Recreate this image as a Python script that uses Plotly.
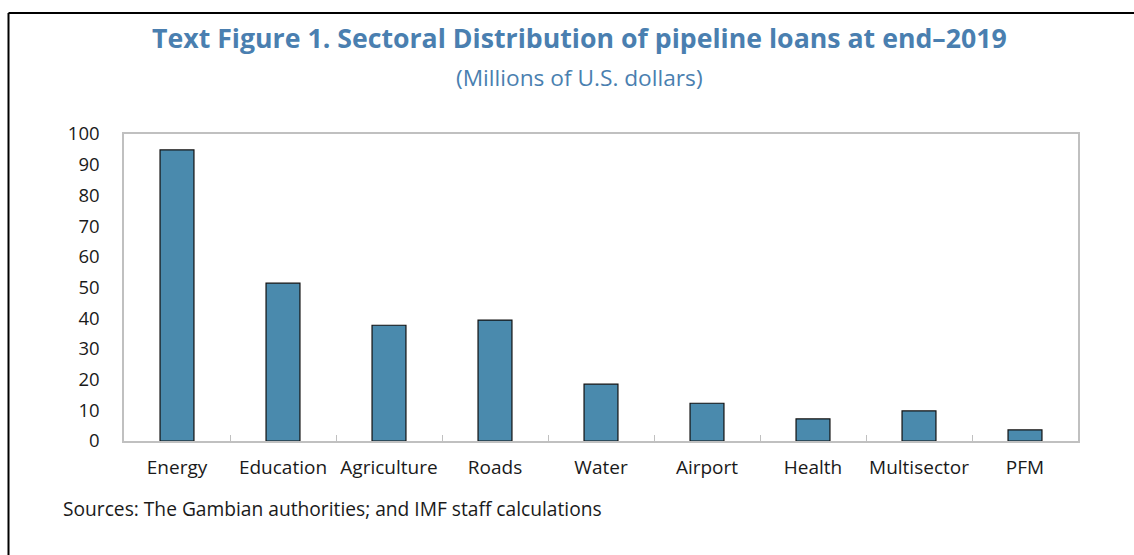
import plotly.graph_objects as go

# Pipeline loans by sector, end-2019 (millions of U.S. dollars)
sectors = ["Energy", "Education", "Agriculture", "Roads", "Water",
           "Airport", "Health", "Multisector", "PFM"]
loans = [94.8, 51.4, 37.7, 39.4, 18.5, 12.3, 7.2, 9.8, 3.6]
y_ticks = [0, 10, 20, 30, 40, 50, 60, 70, 80, 90, 100]

W, H = 1134, 555
L, R, T, B = 124, 1078, 134, 441  # plot area in pixels


def px_x(x):
    return (x - L) / (R - L)


def px_y(y):
    return (B - y) / (B - T)


title_color = "#4a7fb0"
font_family = "Open Sans, Noto Sans, DejaVu Sans, sans-serif"

fig = go.Figure(
    go.Bar(
        x=sectors,
        y=loans,
        marker=dict(color="#4a8aad", line=dict(color="#111111", width=1.2)),
        width=0.32,
    )
)

fig.update_layout(
    width=W,
    height=H,
    margin=dict(l=L, r=W - R, t=T, b=H - B),
    paper_bgcolor="white",
    plot_bgcolor="white",
    showlegend=False,
    font=dict(family=font_family, color="#1a1a1a"),
)

fig.update_xaxes(
    type="category",
    showline=True,
    linecolor="#c0c0c0",
    linewidth=1.5,
    mirror=True,
    ticks="inside",
    tickson="boundaries",
    ticklen=6,
    tickcolor="#c0c0c0",
    tickwidth=1,
    showgrid=False,
    tickangle=0,
    tickfont=dict(size=19, color="#1a1a1a"),
    ticklabelstandoff=8,
)

fig.update_yaxes(
    range=[0, 100],
    tickvals=y_ticks,
    showline=True,
    linecolor="#c0c0c0",
    linewidth=1.5,
    mirror=True,
    ticks="",
    showgrid=False,
    zeroline=False,
    tickfont=dict(size=18.5, color="#1a1a1a"),
    ticklabelstandoff=19,
)

fig.add_annotation(
    text="<b>Text Figure 1. Sectoral Distribution of pipeline loans at end\u20132019</b>",
    xref="paper", yref="paper", x=px_x(579), y=px_y(37),
    xanchor="center", yanchor="middle", showarrow=False,
    font=dict(size=26.7, color=title_color, family=font_family),
)
fig.add_annotation(
    text="(Millions of U.S. dollars)",
    xref="paper", yref="paper", x=px_x(579), y=px_y(78),
    xanchor="center", yanchor="middle", showarrow=False,
    font=dict(size=22.7, color=title_color, family=font_family),
)
fig.add_annotation(
    text="Sources: The Gambian authorities; and IMF staff calculations",
    xref="paper", yref="paper", x=px_x(61), y=px_y(508),
    xanchor="left", yanchor="middle", showarrow=False,
    font=dict(size=19.2, color="#1a1a1a", family=font_family),
)

# Outer frame: top and left edges
fig.add_shape(type="line", xref="paper", yref="paper",
              x0=px_x(8.5), x1=px_x(W + 5), y0=px_y(13), y1=px_y(13),
              line=dict(color="black", width=2))
fig.add_shape(type="line", xref="paper", yref="paper",
              x0=px_x(8.5), x1=px_x(8.5), y0=px_y(13), y1=px_y(H + 5),
              line=dict(color="black", width=2))

fig.write_html("out.html")
